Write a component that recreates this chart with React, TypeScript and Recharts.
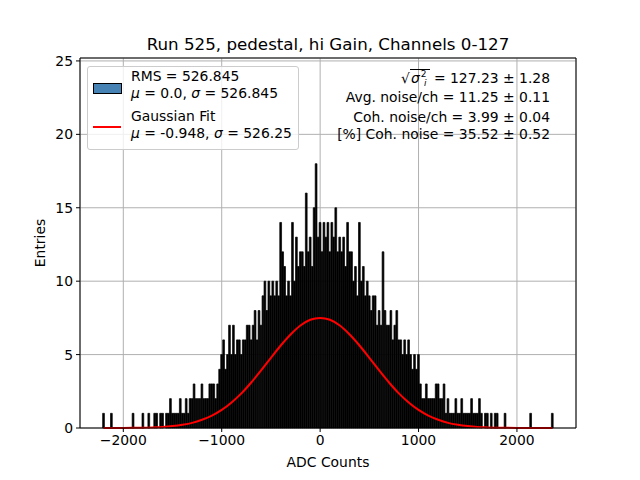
import React from 'react';
import {
  ComposedChart,
  Bar,
  Line,
  XAxis,
  YAxis,
  CartesianGrid,
  ReferenceLine,
} from 'recharts';

const FONT = '"DejaVu Sans", sans-serif';

// histogram: 20 ADC-count bins starting at -2200
const binStart = -2200;
const binWidth = 20;
const counts = [
  1, 0, 0, 0, 1, 0, 0, 0, 0, 0,
  0, 0, 0, 0, 0, 1, 0, 0, 0, 0,
  1, 0, 0, 1, 0, 0, 1, 1, 0, 1,
  1, 0, 1, 1, 2, 1, 1, 1, 1, 2,
  1, 1, 2, 1, 2, 2, 3, 2, 2, 2,
  3, 2, 2, 2, 3, 3, 3, 2, 3, 4,
  5, 6, 4, 5, 7, 5, 7, 5, 6, 6,
  5, 6, 6, 7, 7, 6, 7, 8, 6, 8,
  7, 9, 10, 8, 10, 9, 10, 9, 10, 9,
  14, 12, 11, 9, 10, 9, 14, 10, 13, 11,
  12, 12, 11, 16, 12, 13, 11, 15, 18, 13,
  14, 12, 14, 13, 14, 12, 14, 13, 15, 12,
  13, 12, 13, 11, 14, 12, 12, 10, 11, 9,
  14, 10, 11, 9, 10, 9, 8, 9, 9, 7,
  8, 7, 12, 8, 7, 7, 8, 6, 7, 8,
  6, 6, 5, 6, 5, 6, 5, 4, 5, 4,
  5, 3, 2, 2, 3, 2, 2, 2, 2, 3,
  3, 2, 2, 3, 1, 2, 1, 1, 1, 2,
  1, 1, 2, 1, 1, 1, 1, 2, 1, 1,
  1, 2, 1, 0, 1, 1, 0, 1, 0, 1,
  1, 0, 0, 0, 1, 0, 0, 0, 0, 0,
  0, 0, 0, 0, 0, 0, 0, 1, 0, 0,
  0, 0, 0, 0, 0, 0, 0, 0, 1,
];

// gaussian fit curve
const fitX = [
  -2200, -2100, -2000, -1900, -1800, -1700, -1600, -1500, -1400, -1300,
  -1200, -1100, -1000, -900, -800, -700, -600, -500, -400, -300,
  -200, -100, 0, 100, 200, 300, 400, 500, 600, 700,
  800, 900, 1000, 1100, 1200, 1300, 1400, 1500, 1600, 1700,
  1800, 1900, 2000, 2100, 2200, 2300, 2360,
];
const fitY = [
  0.001, 0.002, 0.005, 0.01, 0.02, 0.04, 0.07, 0.13, 0.22, 0.35,
  0.56, 0.84, 1.23, 1.74, 2.36, 3.1, 3.92, 4.78, 5.62, 6.37,
  6.98, 7.37, 7.5, 7.37, 6.98, 6.37, 5.62, 4.78, 3.92, 3.1,
  2.36, 1.74, 1.23, 0.84, 0.56, 0.35, 0.22, 0.13, 0.07, 0.04,
  0.02, 0.01, 0.005, 0.002, 0.001, 0, 0,
];

const xTicks = [-2000, -1000, 0, 1000, 2000];
const yTicks = [0, 5, 10, 15, 20, 25];

interface Row {
  x: number;
  count: number;
  fit: number | null;
}

const rows: Row[] = counts.map((c, i) => ({
  x: binStart + binWidth * i,
  count: c,
  fit: null,
}));
fitX.forEach((fx, k) => {
  const idx = Math.round((fx - binStart) / binWidth);
  if (rows[idx]) rows[idx].fit = fitY[k];
});

const fmt = (v: number) => String(v).replace('-', '\u2212');

const textStyle: React.CSSProperties = {
  position: 'absolute',
  fontSize: 13.9,
  lineHeight: '14px',
  whiteSpace: 'nowrap',
  color: '#000',
};

export default function App() {
  return (
    <div
      style={{
        position: 'absolute',
        left: 0,
        top: 0,
        width: 640,
        height: 480,
        background: '#fff',
        fontFamily: FONT,
      }}
    >
      <ComposedChart
        width={640}
        height={480}
        data={rows}
        margin={{ top: 58, right: 64, bottom: 22, left: 30 }}
      >
        <XAxis
          type="number"
          dataKey="x"
          domain={[-2440, 2600]}
          ticks={xTicks}
          tickFormatter={fmt}
          height={30}
          tickSize={4}
          tickMargin={3}
          stroke="#000"
          tick={{ fill: '#000', fontSize: 13.9, fontFamily: FONT }}
          axisLine={{ stroke: '#000', strokeWidth: 1 }}
          tickLine={{ stroke: '#000' }}
        />
        <YAxis
          type="number"
          domain={[0, 25.2]}
          ticks={yTicks}
          width={50}
          tickSize={4}
          tickMargin={3}
          stroke="#000"
          tick={{ fill: '#000', fontSize: 13.9, fontFamily: FONT }}
          axisLine={{ stroke: '#000', strokeWidth: 1 }}
          tickLine={{ stroke: '#000' }}
        />
        <Bar
          dataKey="count"
          fill="#000"
          stroke="#000"
          strokeWidth={0.7}
          barSize={2}
          isAnimationActive={false}
        />
        <CartesianGrid stroke="#b0b0b0" strokeWidth={1} />
        <Line
          dataKey="fit"
          type="monotone"
          stroke="#ff0000"
          strokeWidth={2}
          dot={false}
          activeDot={false}
          connectNulls
          isAnimationActive={false}
        />
        <ReferenceLine y={25.2} stroke="#000" strokeWidth={1} />
        <ReferenceLine x={2600} stroke="#000" strokeWidth={1} />
      </ComposedChart>

      {/* title */}
      <div
        style={{
          position: 'absolute',
          left: 0,
          width: 656,
          top: 36,
          textAlign: 'center',
          fontSize: 16.7,
          lineHeight: '17px',
        }}
      >
        Run 525, pedestal, hi Gain, Channels 0-127
      </div>

      {/* axis labels */}
      <div style={{ ...textStyle, left: 0, width: 656, top: 455, textAlign: 'center' }}>
        ADC Counts
      </div>
      <div
        style={{
          ...textStyle,
          left: 40,
          top: 243,
          transform: 'translate(-50%, -50%) rotate(-90deg)',
        }}
      >
        Entries
      </div>

      {/* legend */}
      <div
        style={{
          position: 'absolute',
          left: 87,
          top: 66,
          width: 210,
          height: 82,
          border: '1px solid #cccccc',
          borderRadius: 3,
          background: 'rgba(255,255,255,0.8)',
        }}
      />
      <div
        style={{
          position: 'absolute',
          left: 93,
          top: 83,
          width: 27,
          height: 9,
          background: '#4682b4',
          border: '1px solid #000',
        }}
      />
      <div
        style={{
          position: 'absolute',
          left: 93,
          top: 126,
          width: 28,
          height: 2,
          background: '#ff0000',
        }}
      />
      <div style={{ ...textStyle, left: 131, top: 69 }}>RMS = 526.845</div>
      <div style={{ ...textStyle, left: 131, top: 86 }}>
        <i>μ</i> = 0.0, <i>σ</i> = 526.845
      </div>
      <div style={{ ...textStyle, left: 131, top: 109 }}>Gaussian Fit</div>
      <div style={{ ...textStyle, left: 131, top: 126 }}>
        <i>μ</i> = -0.948, <i>σ</i> = 526.25
      </div>

      {/* noise summary */}
      <div style={{ ...textStyle, right: 90, top: 69, textAlign: 'right' }}>
        <span>√</span>
        <span
          style={{
            borderTop: '1px solid #000',
            paddingLeft: 1,
            paddingRight: 3,
            display: 'inline-block',
            lineHeight: '14px',
          }}
        >
          <i>σ</i>
          <span
            style={{
              display: 'inline-flex',
              flexDirection: 'column',
              fontSize: 9,
              lineHeight: '9px',
              verticalAlign: 'middle',
              marginLeft: 1,
            }}
          >
            <span>2</span>
            <i>i</i>
          </span>
        </span>
        {' '}= 127.23 ± 1.28
      </div>
      <div style={{ ...textStyle, right: 90, top: 90, textAlign: 'right' }}>
        Avg. noise/ch = 11.25 ± 0.11
      </div>
      <div style={{ ...textStyle, right: 90, top: 110, textAlign: 'right' }}>
        Coh. noise/ch = 3.99 ± 0.04
      </div>
      <div style={{ ...textStyle, right: 90, top: 127, textAlign: 'right' }}>
        [%] Coh. noise = 35.52 ± 0.52
      </div>
    </div>
  );
}
